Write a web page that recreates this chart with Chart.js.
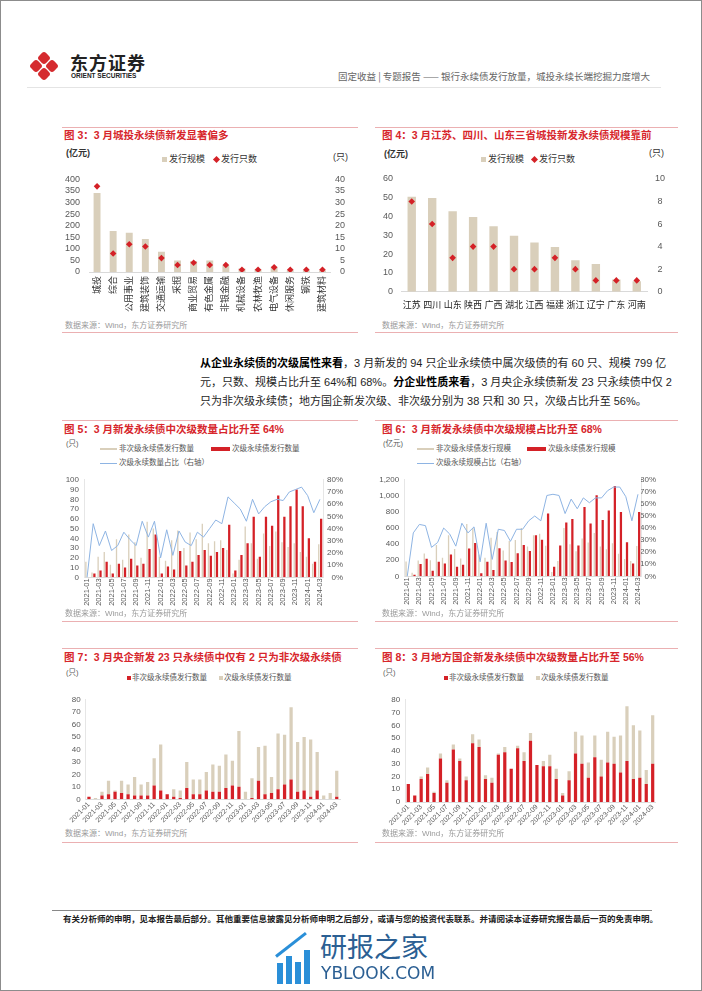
<!DOCTYPE html>
<html>
<head>
<meta charset="utf-8">
<script src="https://cdn.jsdelivr.net/npm/chart.js@4.4.1/dist/chart.umd.min.js"></script>
<style>
  body { margin: 0; background: #fff; }
  #page { position: relative; width: 702px; height: 991px; overflow: hidden; background: #fff;
          font-family: "Liberation Sans", Arial, "Noto Sans CJK SC", sans-serif; }
  .frame { position: absolute; left: 0; top: 0; width: 702px; height: 991px; box-sizing: border-box; border: 1px solid #8c8c8c; }
  .t { position: absolute; white-space: nowrap; line-height: 1; }
  .c { position: absolute; }
  .ttl { font-size: 10.5px; font-weight: bold; color: #d7262c; }
  .src { font-size: 8px; color: #9a9a9a; }
  .unit { font-size: 9px; color: #333; }
  .lg { font-size: 7.5px; color: #555; }
  .lg3 { font-size: 9px; color: #333; }
  .hr { position: absolute; height: 1px; background: #ebb0b2; }
  .mk { position: absolute; }
  .para { font-size: 11px; color: #1e1e1e; }
  .para b { font-weight: bold; color: #000; }
</style>
</head>
<body>
<div id="page">
  <!-- header -->
  <div class="mk" style="left:39px;top:53px;width:10px;height:10px;background:#d52b2f;border-radius:3px;transform:rotate(45deg)"></div>
  <div class="mk" style="left:39px;top:69px;width:10px;height:10px;background:#d52b2f;border-radius:3px;transform:rotate(45deg)"></div>
  <div class="mk" style="left:31px;top:61px;width:10px;height:10px;background:#d52b2f;border-radius:3px;transform:rotate(45deg)"></div>
  <div class="mk" style="left:47px;top:61px;width:10px;height:10px;background:#d52b2f;border-radius:3px;transform:rotate(45deg)"></div>
  <div class="t" style="left:70px;top:53px;font-size:18px;font-weight:bold;color:#222;font-family:'Noto Sans CJK SC';letter-spacing:1px">东方证券</div>
  <div class="t" style="left:71px;top:73px;font-size:6.5px;font-weight:bold;color:#222">ORIENT SECURITIES</div>
  <div class="t" style="left:338px;top:72px;font-size:9.5px;color:#666;font-family:'Noto Sans CJK SC'">固定收益 | 专题报告 —— 银行永续债发行放量，城投永续长端挖掘力度增大</div>
  <div class="mk" style="left:27px;top:87px;width:634px;height:1px;background:#e4e4e4"></div>

  <!-- panel 1 -->
  <div class="hr" style="left:62px;top:127px;width:296px"></div>
  <div class="hr" style="left:375px;top:127px;width:303px"></div>
  <div class="t ttl" style="left:64px;top:130px">图 3：3 月城投永续债新发显著偏多</div>
  <div class="t ttl" style="left:382px;top:130px">图 4：3 月江苏、四川、山东三省城投新发永续债规模靠前</div>
  <div class="t unit" style="left:66px;top:149px;font-weight:bold">(亿元)</div>
  <div class="t unit" style="left:333px;top:153px">(只)</div>
  <div class="mk" style="left:162px;top:157px;width:5px;height:5px;background:#d9cfbb"></div>
  <div class="t lg3" style="left:169px;top:155px">发行规模</div>
  <div class="mk" style="left:214px;top:157px;width:5px;height:5px;background:#d42127;transform:rotate(45deg)"></div>
  <div class="t lg3" style="left:221px;top:155px">发行只数</div>
  <div class="t unit" style="left:384px;top:150px;font-weight:bold">(亿元)</div>
  <div class="t unit" style="left:649px;top:149px">(只)</div>
  <div class="mk" style="left:481px;top:157px;width:5px;height:5px;background:#d9cfbb"></div>
  <div class="t lg3" style="left:488px;top:155px">发行规模</div>
  <div class="mk" style="left:532px;top:157px;width:5px;height:5px;background:#d42127;transform:rotate(45deg)"></div>
  <div class="t lg3" style="left:539px;top:155px">发行只数</div>
  <canvas id="c3" class="c" width="287" height="153" style="left:58px;top:165px"></canvas>
  <canvas id="c4" class="c" width="307" height="150" style="left:368px;top:165px"></canvas>
  <div class="t src" style="left:65px;top:322px">数据来源：Wind，东方证券研究所</div>
  <div class="t src" style="left:382px;top:322px">数据来源：Wind，东方证券研究所</div>
  <div class="hr" style="left:62px;top:332px;width:296px"></div>
  <div class="hr" style="left:375px;top:332px;width:303px"></div>

  <!-- paragraph -->
  <div class="t para" style="left:200px;top:358px"><b>从企业永续债的次级属性来看</b>，3 月新发的 94 只企业永续债中属次级债的有 60 只、规模 799 亿</div>
  <div class="t para" style="left:200px;top:377px">元，只数、规模占比升至 64%和 68%。<b>分企业性质来看</b>，3 月央企永续债新发 23 只永续债中仅 2</div>
  <div class="t para" style="left:200px;top:396px">只为非次级永续债；地方国企新发次级、非次级分别为 38 只和 30 只，次级占比升至 56%。</div>

  <!-- panel 2 -->
  <div class="hr" style="left:62px;top:420px;width:296px"></div>
  <div class="hr" style="left:375px;top:420px;width:303px"></div>
  <div class="t ttl" style="left:64px;top:424px">图 5：3 月新发永续债中次级数量占比升至 64%</div>
  <div class="t ttl" style="left:382px;top:424px">图 6：3 月新发永续债中次级规模占比升至 68%</div>
  <div class="t lg" style="left:66px;top:440px">(只)</div>
  <div class="mk" style="left:100px;top:448px;width:17px;height:2px;background:#d9cfbb"></div>
  <div class="t lg" style="left:119px;top:445px">非次级永续债发行数量</div>
  <div class="mk" style="left:211px;top:447px;width:19px;height:4px;background:#d42127"></div>
  <div class="t lg" style="left:232px;top:445px">次级永续债发行数量</div>
  <div class="mk" style="left:100px;top:463px;width:17px;height:1px;background:#8eb4e3"></div>
  <div class="t lg" style="left:119px;top:459px">次级永续数量占比（右轴）</div>
  <div class="t lg" style="left:383px;top:440px">(亿元)</div>
  <div class="mk" style="left:417px;top:448px;width:17px;height:2px;background:#d9cfbb"></div>
  <div class="t lg" style="left:436px;top:445px">非次级永续债发行规模</div>
  <div class="mk" style="left:527px;top:447px;width:19px;height:4px;background:#d42127"></div>
  <div class="t lg" style="left:548px;top:445px">次级永续债发行规模</div>
  <div class="mk" style="left:417px;top:463px;width:17px;height:1px;background:#8eb4e3"></div>
  <div class="t lg" style="left:436px;top:459px">次级永续规模占比（右轴）</div>
  <canvas id="c5" class="c" width="287" height="140" style="left:56px;top:470px"></canvas>
  <canvas id="c6" class="c" width="286" height="140" style="left:370px;top:470px"></canvas>
  <div class="t src" style="left:65px;top:610px">数据来源：Wind，东方证券研究所</div>
  <div class="t src" style="left:382px;top:610px">数据来源：Wind，东方证券研究所</div>
  <div class="hr" style="left:62px;top:621px;width:296px"></div>
  <div class="hr" style="left:375px;top:621px;width:303px"></div>

  <!-- panel 3 -->
  <div class="hr" style="left:62px;top:648px;width:296px"></div>
  <div class="hr" style="left:375px;top:648px;width:303px"></div>
  <div class="t ttl" style="left:64px;top:652px">图 7：3 月央企新发 23 只永续债中仅有 2 只为非次级永续债</div>
  <div class="t ttl" style="left:382px;top:652px">图 8：3 月地方国企新发永续债中次级数量占比升至 56%</div>
  <div class="t lg" style="left:66px;top:669px">(只)</div>
  <div class="mk" style="left:127px;top:676px;width:4px;height:4px;background:#d42127"></div>
  <div class="t lg" style="left:132px;top:674px">非次级永续债发行数量</div>
  <div class="mk" style="left:219px;top:676px;width:4px;height:4px;background:#d9cfbb"></div>
  <div class="t lg" style="left:224px;top:674px">次级永续债发行数量</div>
  <div class="t lg" style="left:383px;top:669px">(只)</div>
  <div class="mk" style="left:444px;top:676px;width:4px;height:4px;background:#d42127"></div>
  <div class="t lg" style="left:449px;top:674px">非次级永续债发行数量</div>
  <div class="mk" style="left:536px;top:676px;width:4px;height:4px;background:#d9cfbb"></div>
  <div class="t lg" style="left:541px;top:674px">次级永续债发行数量</div>
  <canvas id="c7" class="c" width="287" height="138" style="left:58px;top:690px"></canvas>
  <canvas id="c8" class="c" width="289" height="140" style="left:373px;top:690px"></canvas>
  <div class="t src" style="left:65px;top:830px">数据来源：Wind，东方证券研究所</div>
  <div class="t src" style="left:382px;top:830px">数据来源：Wind，东方证券研究所</div>
  <div class="hr" style="left:62px;top:842px;width:296px"></div>
  <div class="hr" style="left:375px;top:842px;width:303px"></div>

  <!-- footer -->
  <div class="mk" style="left:52px;top:910px;width:600px;height:1px;background:#888"></div>
  <div class="t" style="left:63px;top:914px;font-size:8.5px;font-weight:bold;color:#222;font-family:'Noto Sans CJK SC'">有关分析师的申明，见本报告最后部分。其他重要信息披露见分析师申明之后部分，或请与您的投资代表联系。并请阅读本证券研究报告最后一页的免责申明。</div>

  <!-- watermark -->
  <div class="mk" style="left:277px;top:963px;width:6px;height:21px;background:#2a8fd8"></div>
  <div class="mk" style="left:286px;top:956px;width:6px;height:28px;background:#2a8fd8"></div>
  <div class="mk" style="left:295px;top:962px;width:6px;height:22px;background:#2a8fd8"></div>
  <div class="mk" style="left:304px;top:950px;width:6px;height:34px;background:#2a8fd8"></div>
  <div class="mk" style="left:276px;top:955px;width:38px;height:3px;background:#2a8fd8;transform:rotate(-38deg);transform-origin:left center"></div>
  <div class="t" style="left:320px;top:932px;font-size:27px;color:#2b5f93;font-family:'Noto Sans CJK SC'">研报之家</div>
  <div class="t" style="left:321px;top:965px;font-size:17px;color:#2b5f93;font-family:'DejaVu Sans'">YBLOOK.COM</div>

  <div class="frame"></div>
</div>

<script>
// 图3：行业
const industries = ['城投', '综合', '公用事业', '建筑装饰', '交通运输', '采掘', '商业贸易', '有色金属', '非银金融', '机械设备', '农林牧渔', '电气设备', '休闲服务', '钢铁', '建筑材料'];
const industryAmount = [341, 177, 170, 143, 87, 50, 47, 50, 29, 15, 12, 23, 8, 8, 7];
const industryCount = [37, 8, 12, 11, 6, 3, 4, 3, 3, 1, 1, 2, 1, 1, 1];

// 图4：省份
const provinces = ['江苏', '四川', '山东', '陕西', '广西', '湖北', '江西', '福建', '浙江', '辽宁', '广东', '河南'];
const provinceAmount = [50.5, 49.8, 42.8, 39.7, 34.8, 29.8, 26.2, 23.8, 16.7, 14.8, 6.5, 5.5];
const provinceCount = [8, 6, 3, 4, 4, 2, 2, 3, 2, 1, 1, 1];

// 月份
const months = ['2021-01', '2021-02', '2021-03', '2021-04', '2021-05', '2021-06', '2021-07', '2021-08', '2021-09', '2021-10', '2021-11', '2021-12',
  '2022-01', '2022-02', '2022-03', '2022-04', '2022-05', '2022-06', '2022-07', '2022-08', '2022-09', '2022-10', '2022-11', '2022-12',
  '2023-01', '2023-02', '2023-03', '2023-04', '2023-05', '2023-06', '2023-07', '2023-08', '2023-09', '2023-10', '2023-11', '2023-12',
  '2024-01', '2024-02', '2024-03'];

// 图5：数量
const nonSubCount = [16, 5, 21, 26, 13, 39, 18, 44, 36, 20, 57, 50, 21, 17, 38, 48, 30, 46, 39, 55, 35, 37, 38, 28, 4, 18, 52, 35, 19, 45, 32, 47, 36, 31, 35, 26, 21, 14, 34];
const subCount = [0, 4, 7, 16, 4, 14, 10, 19, 12, 14, 29, 44, 4, 11, 8, 27, 12, 16, 23, 28, 22, 26, 30, 54, 7, 23, 35, 62, 21, 62, 53, 84, 62, 73, 90, 73, 40, 16, 60];
const subCountPct = [0, 44, 26, 38, 22, 26, 37, 31, 26, 46, 33, 46, 16, 39, 18, 38, 29, 26, 37, 33, 40, 47, 44, 66, 61, 56, 46, 64, 52, 58, 62, 64, 63, 70, 72, 74, 67, 53, 64];

// 图6：规模
const nonSubAmount = [185, 45, 195, 285, 200, 390, 230, 510, 340, 220, 650, 600, 270, 230, 480, 550, 320, 440, 450, 600, 370, 510, 530, 380, 55, 190, 600, 400, 310, 470, 420, 540, 370, 335, 410, 280, 215, 190, 376];
const subAmount = [0, 20, 152, 218, 70, 181, 160, 271, 119, 144, 345, 415, 37, 181, 78, 349, 197, 177, 288, 390, 316, 510, 456, 781, 119, 382, 670, 711, 382, 863, 658, 1007, 699, 818, 1122, 801, 423, 160, 799];
const subAmountPct = [0, 36, 43, 42, 24, 28, 40, 35, 25, 44, 36, 41, 12, 44, 14, 39, 38, 29, 39, 39, 46, 50, 46, 67, 68, 67, 52, 64, 56, 65, 61, 65, 65, 71, 74, 74, 66, 46, 68];

// 图7：央企
const centralNonSub = [2, 0, 3, 4, 6, 5, 4, 3, 3, 3, 11, 7, 4, 2, 1, 9, 4, 4, 7, 6, 6, 9, 11, 10, 0, 1, 15, 4, 5, 8, 12, 16, 6, 7, 2, 7, 0, 0, 2];
const centralSub = [0, 1, 3, 11, 1, 10, 8, 15, 9, 11, 22, 37, 0, 6, 6, 21, 12, 12, 15, 22, 21, 27, 20, 45, 6, 16, 27, 39, 13, 45, 40, 58, 40, 43, 46, 31, 3, 5, 21];

// 图8：地方国企
const localNonSub = [14, 5, 18, 22, 7, 34, 15, 41, 32, 17, 46, 43, 18, 15, 37, 39, 26, 42, 32, 48, 29, 28, 28, 18, 5, 17, 38, 30, 19, 35, 20, 31, 30, 23, 32, 18, 19, 14, 30];
const localSub = [0, 0, 2, 5, 1, 4, 2, 4, 2, 3, 7, 6, 3, 4, 1, 4, 0, 2, 7, 6, 0, 4, 9, 8, 2, 7, 17, 22, 12, 17, 13, 24, 21, 29, 43, 42, 37, 11, 38];

const BEIGE = '#d9cfbb';
const RED = '#d42127';
const BLUE = '#8eb4e3';
const TICK = '#595959';

Chart.defaults.font.family = '"Liberation Sans", Arial, "Noto Sans CJK SC", sans-serif';
Chart.defaults.color = TICK;
Chart.defaults.animation = false;
Chart.defaults.plugins.legend.display = false;
Chart.defaults.plugins.tooltip.enabled = false;

const width = w => s => { s.width = w; };
const height = h => s => { s.height = h; };
const everyOther = (v, i) => (i % 2 === 0 ? months[i] : '');
const noGrid = { display: false, drawTicks: false };

// 图3
new Chart(document.getElementById('c3'), {
  type: 'bar',
  data: {
    labels: industries,
    datasets: [
      { type: 'line', data: industryCount, yAxisID: 'y1', showLine: false, pointStyle: 'rectRot', pointRadius: 3.3,
        backgroundColor: RED, borderColor: RED, borderWidth: 0, order: 0 },
      { data: industryAmount, yAxisID: 'y', backgroundColor: BEIGE, categoryPercentage: 1, barPercentage: 0.43, order: 1 }
    ]
  },
  options: {
    responsive: false,
    layout: { padding: { top: 10 } },
    scales: {
      x: { grid: noGrid, border: { color: '#d9d9d9' },
           ticks: { autoSkip: false, minRotation: 90, maxRotation: 90, padding: 4, color: '#333', font: { size: 9 } },
           afterFit: height(46) },
      y: { position: 'left', min: 0, max: 400, grid: noGrid, border: { display: false },
           ticks: { autoSkip: false, stepSize: 50, padding: 9, font: { size: 9 } }, afterFit: width(31) },
      y1: { position: 'right', min: 0, max: 40, grid: noGrid, border: { display: false },
            ticks: { autoSkip: false, stepSize: 5, padding: 3, crossAlign: 'far', font: { size: 9 } }, afterFit: width(14.5) }
    }
  }
});

// 图4
new Chart(document.getElementById('c4'), {
  type: 'bar',
  data: {
    labels: provinces,
    datasets: [
      { type: 'line', data: provinceCount, yAxisID: 'y1', showLine: false, pointStyle: 'rectRot', pointRadius: 3.3,
        backgroundColor: RED, borderColor: RED, borderWidth: 0, order: 0 },
      { data: provinceAmount, yAxisID: 'y', backgroundColor: BEIGE, categoryPercentage: 1, barPercentage: 0.41, order: 1 }
    ]
  },
  options: {
    responsive: false,
    layout: { padding: { top: 10.7 } },
    scales: {
      x: { grid: noGrid, border: { color: '#d9d9d9' },
           ticks: { autoSkip: false, maxRotation: 0, padding: 8, color: '#222', font: { size: 9 } },
           afterFit: height(23.3) },
      y: { position: 'left', min: 0, max: 60, grid: noGrid, border: { display: false },
           ticks: { autoSkip: false, stepSize: 10, padding: 8.5, font: { size: 9 } }, afterFit: width(33.5) },
      y1: { position: 'right', min: 0, max: 10, grid: noGrid, border: { display: false },
            ticks: { autoSkip: false, stepSize: 2, padding: 8, crossAlign: 'center', font: { size: 9 } }, afterFit: width(28) }
    }
  }
});

// 图5、图6：次级/非次级 + 占比
function ratioChart(id, nonSub, sub, pct, leftMax, leftStep, leftW, rightW, padTop, xH) {
  new Chart(document.getElementById(id), {
    type: 'bar',
    data: {
      labels: months,
      datasets: [
        { type: 'line', data: pct, yAxisID: 'y1', borderColor: BLUE, borderWidth: 1, pointRadius: 0, tension: 0, order: 0 },
        { data: nonSub, yAxisID: 'y', backgroundColor: BEIGE, categoryPercentage: 0.78, barPercentage: 0.55, order: 1 },
        { data: sub, yAxisID: 'y', backgroundColor: RED, categoryPercentage: 0.78, barPercentage: 0.95, order: 1 }
      ]
    },
    options: {
      responsive: false,
      layout: { padding: { top: padTop } },
      scales: {
        x: { grid: noGrid, border: { color: '#dcdcdc' },
             ticks: { autoSkip: false, minRotation: 90, maxRotation: 90, padding: 1, font: { size: 7.5 }, callback: everyOther },
             afterFit: height(xH) },
        y: { position: 'left', min: 0, max: leftMax, grid: noGrid, border: { color: '#e6e6e6' },
             ticks: { autoSkip: false, stepSize: leftStep, padding: 5, font: { size: 8 } }, afterFit: width(leftW) },
        y1: { position: 'right', min: 0, max: 80, grid: noGrid, border: { color: '#e6e6e6' },
              ticks: { autoSkip: false, stepSize: 10, padding: 3, crossAlign: 'far', font: { size: 8 }, callback: v => v + '%' },
              afterFit: width(rightW) }
      }
    }
  });
}
ratioChart('c5', nonSubCount, subCount, subCountPct, 100, 10, 28, 20, 8, 32.7);
ratioChart('c6', nonSubAmount, subAmount, subAmountPct, 1200, 200, 34.2, 15, 9, 33.7);

// 图7、图8：堆积
function stackChart(id, red, beige, leftW, padRight, xH) {
  new Chart(document.getElementById(id), {
    type: 'bar',
    data: {
      labels: months,
      datasets: [
        { data: red, backgroundColor: RED, categoryPercentage: 1, barPercentage: 0.5 },
        { data: beige, backgroundColor: BEIGE, categoryPercentage: 1, barPercentage: 0.5 }
      ]
    },
    options: {
      responsive: false,
      layout: { padding: { top: 8.7, right: padRight } },
      scales: {
        x: { stacked: true, grid: noGrid, border: { color: '#dcdcdc' },
             ticks: { autoSkip: false, minRotation: 45, maxRotation: 45, padding: 1, font: { size: 7 }, callback: everyOther },
             afterFit: height(xH) },
        y: { stacked: true, min: 0, max: 80, grid: noGrid, border: { color: '#e6e6e6' },
             ticks: { autoSkip: false, stepSize: 10, padding: 5, font: { size: 8 } }, afterFit: width(leftW) }
      }
    }
  });
}
stackChart('c7', centralNonSub, centralSub, 27.7, 5, 28.7);
stackChart('c8', localNonSub, localSub, 32.1, 6.1, 28);
</script>
</body>
</html>
